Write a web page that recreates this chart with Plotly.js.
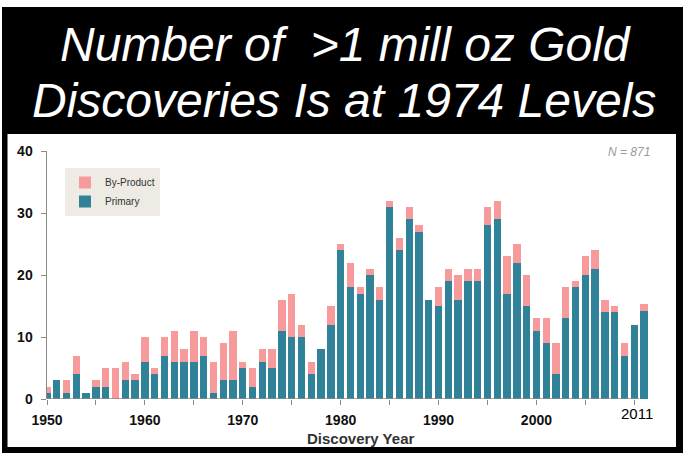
<!DOCTYPE html>
<html>
<head>
<meta charset="utf-8">
<script src="https://cdn.plot.ly/plotly-3.0.1.min.js"></script>
<style>
  html, body { margin: 0; padding: 0; background: #ffffff; }
  #chart { width: 697px; height: 454px; }
</style>
</head>
<body>
<div id="chart"></div>
<script>
// ---- data ----
var years = [1950,1951,1952,1953,1954,1955,1956,1957,1958,1959,
             1960,1961,1962,1963,1964,1965,1966,1967,1968,1969,
             1970,1971,1972,1973,1974,1975,1976,1977,1978,1979,
             1980,1981,1982,1983,1984,1985,1986,1987,1988,1989,
             1990,1991,1992,1993,1994,1995,1996,1997,1998,1999,
             2000,2001,2002,2003,2004,2005,2006,2007,2008,2009,
             2010,2011];
var primary = [1,3,1,4,1,2,2,0,3,3,
               6,4,7,6,6,6,7,1,3,3,
               5,2,6,5,11,10,10,4,8,12,
               24,18,17,20,16,31,24,29,27,16,
               15,19,16,19,19,28,29,17,22,15,
               11,9,4,13,18,20,21,14,14,7,
               12,14.2];
var byProduct = [1,0,2,3,0,1,3,5,3,1,
                 4,1,3,5,2,5,3,5,6,8,
                 1,3,2,3,5,7,2,2,0,3,
                 1,4,1,1,2,1,2,2,1,0,
                 3,2,4,2,2,3,3,6,3,5,
                 2,4,5,5,1,3,3,2,1,2,
                 0,1.1];
var seriesNames = ['Primary', 'By-Product'];
var xTickVals = [1950,1955,1960,1965,1970,1975,1980,1985,1990,1995,2000,2005,2010];
var xTickText = ['1950','','1960','','1970','','1980','','1990','','2000','',''];
var lastYearLabel = '2011';
var titleLine1 = 'Number of&nbsp; &gt;1 mill oz Gold';
var titleLine2 = 'Discoveries Is at 1974 Levels';
var xTitle = 'Discovery Year';
var nNote = 'N = 871';

// ---- layout geometry helpers ----
var W = 697, H = 454;
var M = {l: 47, r: 48, t: 151, b: 55};
var PW = W - M.l - M.r, PH = H - M.t - M.b;
function px(x) { return (x - M.l) / PW; }
function py(y) { return (H - M.b - y) / PH; }

var teal = '#2f8298';
var pink = '#f79a9b';
var baseFont = 'Liberation Sans, Arial, sans-serif';
var titleFont = {family: 'Liberation Sans, Arial, sans-serif', size: 48, style: 'italic', color: '#ffffff'};

var traces = [
  {type: 'bar', name: seriesNames[0], x: years, y: primary,
   marker: {color: teal, line: {width: 0}}, hoverinfo: 'x+y+name'},
  {type: 'bar', name: seriesNames[1], x: years, y: byProduct,
   marker: {color: pink, line: {width: 0}}, hoverinfo: 'x+y+name'}
];

var layout = {
  width: W, height: H,
  margin: M,
  paper_bgcolor: '#ffffff',
  plot_bgcolor: 'rgba(0,0,0,0)',
  barmode: 'stack',
  bargap: 0.25,
  showlegend: true,
  legend: {
    x: px(65), y: py(168), xanchor: 'left', yanchor: 'top',
    bgcolor: '#edebe3', borderwidth: 0,
    traceorder: 'reversed', itemwidth: 30,
    font: {family: baseFont, size: 10, color: '#333333'}
  },
  xaxis: {
    range: [1950, 2011.5],
    tickmode: 'array', tickvals: xTickVals, ticktext: xTickText,
    ticks: 'outside', ticklen: 5, tickcolor: '#8a8a8a', tickwidth: 1,
    ticklabelstandoff: 3,
    showline: false, showgrid: false, zeroline: false,
    tickfont: {family: baseFont, size: 14, weight: 'bold', color: '#111111'},
    fixedrange: true
  },
  yaxis: {
    range: [0, 40], dtick: 10,
    ticks: 'outside', ticklen: 5, tickcolor: '#8a8a8a', tickwidth: 1,
    ticklabelstandoff: 5,
    showline: true, linecolor: '#8a8a8a', linewidth: 1.5,
    showgrid: false, zeroline: false,
    tickfont: {family: baseFont, size: 14, weight: 'bold', color: '#111111'},
    fixedrange: true
  },
  shapes: [
    {type: 'rect', xref: 'paper', yref: 'paper', layer: 'below',
     x0: px(2), x1: px(683), y0: py(453), y1: py(7),
     fillcolor: '#000000', line: {width: 0}},
    {type: 'rect', xref: 'paper', yref: 'paper', layer: 'below',
     x0: px(7.5), x1: px(676), y0: py(447), y1: py(134),
     fillcolor: '#ffffff', line: {width: 0}},
    {type: 'line', xref: 'x', yref: 'y', layer: 'above',
     x0: 1950, x1: 2010.5, y0: 0, y1: 0,
     line: {color: '#8a8a8a', width: 1.5}}
  ],
  annotations: [
    {text: titleLine1, xref: 'paper', yref: 'paper', x: px(345), y: py(44),
     xanchor: 'center', yanchor: 'middle', showarrow: false, font: titleFont},
    {text: titleLine2, xref: 'paper', yref: 'paper', x: px(343.5), y: py(101),
     xanchor: 'center', yanchor: 'middle', showarrow: false, font: titleFont},
    {text: xTitle, xref: 'paper', yref: 'paper', x: px(360), y: py(438),
     xanchor: 'center', yanchor: 'middle', showarrow: false,
     font: {family: baseFont, size: 15, weight: 'bold', color: '#333333'}},
    {text: nNote, xref: 'paper', yref: 'paper', x: px(652), y: py(151.5),
     xanchor: 'right', yanchor: 'middle', showarrow: false,
     font: {family: baseFont, size: 12, style: 'italic', color: '#9a9a9a'}},
    {text: lastYearLabel, xref: 'x', yref: 'paper', x: 2010.3, y: py(413.5),
     xanchor: 'center', yanchor: 'middle', showarrow: false,
     font: {family: baseFont, size: 15, color: '#000000'}}
  ]
};

Plotly.newPlot('chart', traces, layout, {displayModeBar: false, staticPlot: true});
</script>
</body>
</html>
